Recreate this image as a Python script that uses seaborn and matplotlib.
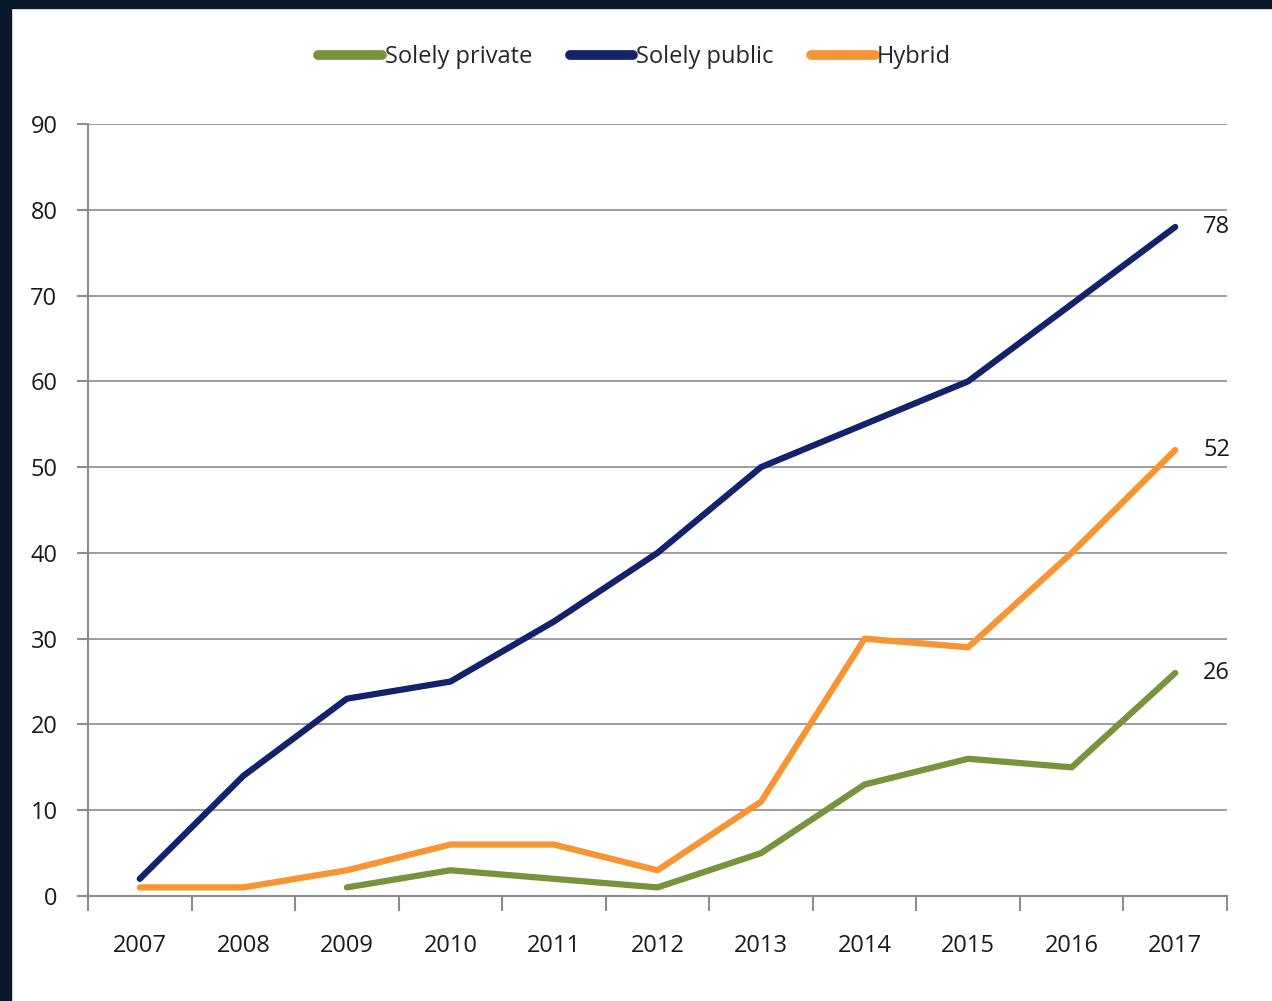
import numpy as np
import pandas as pd
import matplotlib.pyplot as plt
import seaborn as sns
from matplotlib.patches import Rectangle

years = ['2007', '2008', '2009', '2010', '2011', '2012', '2013', '2014', '2015', '2016', '2017']
solely_private = [np.nan, np.nan, 1, 3, 2, 1, 5, 13, 16, 15, 26]
solely_public = [2, 14, 23, 25, 32, 40, 50, 55, 60, 69, 78]
hybrid = [1, 1, 3, 6, 6, 3, 11, 30, 29, 40, 52]
series_names = ['Solely private', 'Solely public', 'Hybrid']
colors = ['#77933C', '#12226B', '#F79433']

df = pd.DataFrame({'year': years, 'Solely private': solely_private,
                   'Solely public': solely_public, 'Hybrid': hybrid})
df['pos'] = range(len(years))
long_df = df.melt(id_vars=['year', 'pos'], value_vars=series_names,
                  var_name='series', value_name='count').dropna()

sns.set_style('white')
plt.rcParams['font.family'] = ['Open Sans', 'DejaVu Sans']

fig = plt.figure(figsize=(12.72, 10.01), dpi=100)
# dark frame on the left and top edges
fig.patches.append(Rectangle((0, 0), 11 / 1272, 1, transform=fig.transFigure, color='#0B1A2A', zorder=-1))
fig.patches.append(Rectangle((0, 1 - 8 / 1001), 1, 8 / 1001, transform=fig.transFigure, color='#0B1A2A', zorder=-1))

ax = fig.add_axes([88 / 1272, 105 / 1001, (1227 - 88) / 1272, (896 - 124) / 1001])
sns.lineplot(data=long_df, x='pos', y='count', hue='series', hue_order=series_names,
             palette=colors, linewidth=4.5, ax=ax, sort=False)

ax.set_xlim(-0.5, len(years) - 0.5)
ax.set_ylim(0, 90)
ax.set_yticks(range(0, 91, 10))
ax.yaxis.grid(True, color='#8C8C8C', linewidth=1.2)
ax.set_axisbelow(True)
ax.set_xticks(range(len(years)))
ax.set_xticklabels(years)
ax.set_xticks(np.arange(-0.5, len(years), 1), minor=True)
ax.tick_params(axis='x', which='major', length=0, pad=27, labelsize=17, labelcolor='#1a1a1a')
ax.tick_params(axis='x', which='minor', length=11, width=1.5, color='#8C8C8C', direction='out')
ax.tick_params(axis='y', length=8, width=1.5, color='#8C8C8C', pad=14, labelsize=17, labelcolor='#1a1a1a')
ax.tick_params(axis='y', which='major', left=True)
ax.tick_params(axis='x', which='minor', bottom=True)
for side in ['top', 'right']:
    ax.spines[side].set_visible(False)
for side in ['left', 'bottom']:
    ax.spines[side].set_color('#8C8C8C')
    ax.spines[side].set_linewidth(1.5)
ax.set_xlabel('')
ax.set_ylabel('')

# end labels
for name, vals in zip(series_names, [solely_private, solely_public, hybrid]):
    ax.annotate(str(vals[-1]), (len(years) - 1, vals[-1]), xytext=(20, 0),
                textcoords='offset points', va='center', ha='left', fontsize=17, color='#1a1a1a')

handles, labels = ax.get_legend_handles_labels()
leg = ax.legend(handles, labels, loc='center', bbox_to_anchor=(0.48, 1.087), ncol=3,
                frameon=False, fontsize=17, handlelength=2.7, handletextpad=0.1, columnspacing=1.6)
for line in leg.get_lines():
    line.set_linewidth(7)

fig.savefig('out.png', dpi=100, facecolor='white')
